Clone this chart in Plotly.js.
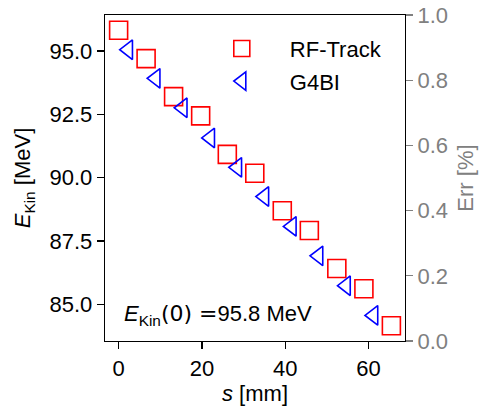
<!DOCTYPE html>
<html>
<head>
<meta charset="utf-8">
<script src="https://cdn.plot.ly/plotly-3.0.1.min.js"></script>
<style>html,body{margin:0;padding:0;background:#fff}</style>
</head>
<body>
<div id="chart" style="width:481px;height:410px"></div>
<script>
// RF-Track (squares)
const rfS = [0, 6.6, 13.2, 19.7, 26.1, 32.7, 39.3, 45.8, 52.4, 58.9, 65.5];
const rfE = [95.82, 94.70, 93.20, 92.44, 90.92, 90.18, 88.70, 87.92, 86.42, 85.62, 84.16];
// G4BI (left triangles)
const g4S = [2.3, 8.9, 15.4, 22.0, 28.5, 35.0, 41.6, 48.0, 54.6, 61.2];
const g4E = [95.05, 93.92, 92.76, 91.57, 90.41, 89.26, 88.08, 86.92, 85.74, 84.57];
const names = ['RF-Track', 'G4BI'];
const leftTicks = [85.0, 87.5, 90.0, 92.5, 95.0];
const rightTicks = [0.0, 0.2, 0.4, 0.6, 0.8, 1.0];

const FONT = 'Liberation Sans, Arial, Helvetica, sans-serif';
const GREY = '#808080';

const traces = [
  {x: rfS, y: rfE, name: names[0], type: 'scatter', mode: 'markers', legendgroup: 'a',
   marker: {symbol: 'square-open', size: 18, color: '#ff0000', line: {width: 1.6}}},
  {x: g4S, y: g4E, name: names[1], type: 'scatter', mode: 'markers', legendgroup: 'b',
   marker: {symbol: 'triangle-left-open', size: 17, color: '#0000ff', line: {width: 1.6}}},
  {x: [], y: [], yaxis: 'y2', type: 'scatter', mode: 'markers', showlegend: false, hoverinfo: 'skip'}
];

const layout = {
  width: 481, height: 410,
  margin: {l: 104.5, r: 76.3, t: 15, b: 69.3},
  paper_bgcolor: '#fff', plot_bgcolor: '#fff',
  font: {family: FONT, size: 22, color: '#000'},
  showlegend: true,
  legend: {x: 0.296, y: 0.961, xanchor: 'left', yanchor: 'top', bgcolor: 'rgba(0,0,0,0)',
           traceorder: 'grouped', tracegroupgap: 1, itemwidth: 86, font: {size: 22, family: FONT},
           itemsizing: 'trace'},
  xaxis: {range: [-3.27, 68.77], tickvals: [0, 20, 40, 60], ticks: 'outside', ticklen: 7, tickwidth: 1.3,
          tickcolor: '#000', showline: true, linewidth: 1.3, linecolor: '#000', mirror: true,
          showgrid: false, zeroline: false, tickfont: {size: 22},
          title: {text: '<i>s</i> [mm]', font: {size: 22}, standoff: 5}},
  yaxis: {range: [83.56, 96.42], tickvals: leftTicks, tickformat: '.1f', ticks: 'outside', ticklen: 7, tickwidth: 1.3,
          tickcolor: '#000', showline: true, linewidth: 1.3, linecolor: '#000', mirror: true,
          showgrid: false, zeroline: false, tickfont: {size: 22},
          title: {text: '<i>E</i><sub>Kin</sub> [MeV]', font: {size: 22}, standoff: 12}},
  yaxis2: {overlaying: 'y', side: 'right', range: [0, 1], tickvals: rightTicks, tickformat: '.1f',
           ticks: 'outside', ticklen: 7, tickwidth: 1.3, tickcolor: GREY, showline: false,
           showgrid: false, zeroline: false, tickfont: {size: 22, color: GREY},
           title: {text: 'Err [%]', font: {size: 22, color: GREY}, standoff: 10}},
  annotations: [{
    xref: 'paper', yref: 'paper', x: 0.055, y: 0.079, xanchor: 'left', yanchor: 'middle',
    showarrow: false,
    text: '<i>E</i><sub>Kin</sub><span style="font-family:DejaVu Sans">(0) =</span>95.8 MeV',
    font: {size: 22, color: '#000'}
  }]
};

Plotly.newPlot('chart', traces, layout, {displayModeBar: false, staticPlot: true});
</script>
</body>
</html>
